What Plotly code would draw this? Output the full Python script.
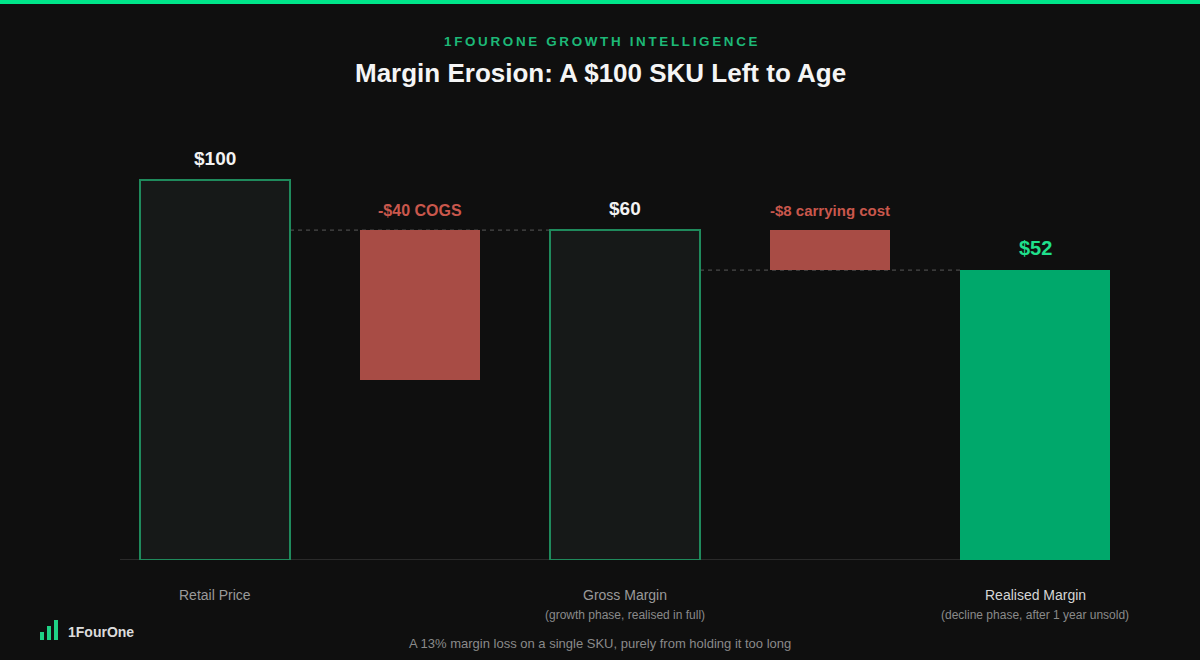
import plotly.graph_objects as go

# ---- data ----
steps = ["Retail Price", "COGS", "Gross Margin", "Carrying cost", "Realised Margin"]
amounts = [100, -40, 60, -8, 52]                       # dollar values shown
value_labels = ["$100", "-$40 COGS", "$60", "-$8 carrying cost", "$52"]
sub_labels = ["", "", "(growth phase, realised in full)", "", "(decline phase, after 1 year unsold)"]
axis_labels = ["Retail Price", "", "Gross Margin", "", "Realised Margin"]
# bar extents as drawn in the reference (display scale, retail = 100)
bar_top = [100, 86.8, 86.8, 86.8, 76.3]
bar_base = [0, 47.4, 0, 76.3, 0]
kinds = ["total", "loss", "total", "loss", "final"]

# ---- styles ----
BG = "#0f0f0f"
FONT = "Liberation Sans, Arial, sans-serif"
fill = {"total": "#161918", "loss": "#a84c45", "final": "#00a86b"}
edge = {"total": "#1f8a5c", "loss": "#a84c45", "final": "#00a86b"}
edge_w = {"total": 2, "loss": 0, "final": 0}
label_col = {"total": "#f2f2f2", "loss": "#c9574c", "final": "#1fe08c"}
label_sizes = [19, 16, 19, 15, 20]
widths = {"total": 0.7317, "loss": 0.5854, "final": 0.7317}

x = list(range(len(steps)))
heights = [t - b for t, b in zip(bar_top, bar_base)]

fig = go.Figure()
fig.add_trace(go.Bar(
    x=x, y=heights, base=bar_base,
    width=[widths[k] for k in kinds],
    marker=dict(color=[fill[k] for k in kinds],
                line=dict(color=[edge[k] for k in kinds], width=[edge_w[k] for k in kinds])),
    hoverinfo="skip", showlegend=False,
))

# dashed connectors: each subtotal level extended back to the previous total bar
shapes = []
subtotal_idx = [i for i, k in enumerate(kinds) if k != "loss"]
for a, b in zip(subtotal_idx[:-1], subtotal_idx[1:]):
    level = bar_top[b]
    shapes.append(dict(type="line", xref="x", yref="y", layer="below",
                       x0=x[a] + widths[kinds[a]] / 2, x1=x[b] - widths[kinds[b]] / 2,
                       y0=level, y1=level, line=dict(color="#4a4a4a", width=1.3, dash="4px,4px")))
# baseline
shapes.append(dict(type="line", xref="paper", yref="y", layer="below", x0=0, x1=0.9505,
                   y0=0, y1=0, line=dict(color="#2a2a2a", width=2)))
# top accent strip
shapes.append(dict(type="rect", xref="paper", yref="paper", x0=-0.2, x1=1.2,
                   y0=1.3238, y1=1.34, fillcolor="#00e68a", line=dict(width=0)))
# logo bars
for lx, top in [(40, 632), (47, 626), (54, 620)]:
    shapes.append(dict(type="rect", xref="paper", yref="paper",
                       x0=(lx - 120) / 1010, x1=(lx + 4 - 120) / 1010,
                       y0=(560 - 640) / 420, y1=(560 - top) / 420,
                       fillcolor="#1fd185", line=dict(width=0)))

ann = []
for i, k in enumerate(kinds):
    ann.append(dict(x=x[i], y=bar_top[i], xref="x", yref="y", text="<b>%s</b>" % value_labels[i],
                    showarrow=False, yanchor="middle", yshift=22 if k != "loss" else 20,
                    font=dict(family=FONT, size=label_sizes[i], color=label_col[k])))
    if axis_labels[i]:
        ann.append(dict(x=x[i], y=-0.0833, xref="x", yref="paper", text=axis_labels[i],
                        showarrow=False, yanchor="middle",
                        font=dict(family=FONT, size=14, color="#d6d6d6" if k == "final" else "#9a9a9a")))
    if sub_labels[i]:
        ann.append(dict(x=x[i], y=-0.131, xref="x", yref="paper", text=sub_labels[i],
                        showarrow=False, yanchor="middle",
                        font=dict(family=FONT, size=12, color="#8a8a8a")))

kicker = "\u2009".join("1FOURONE GROWTH INTELLIGENCE")
ann += [
    dict(x=(600 - 120) / 1010, y=(560 - 41.5) / 420, xref="paper", yref="paper", text="<b>%s</b>" % kicker,
         showarrow=False, yanchor="middle", font=dict(family=FONT, size=13.4, color="#1db877")),
    dict(x=(600 - 120) / 1010, y=(560 - 73) / 420, xref="paper", yref="paper",
         text="<b>Margin Erosion: A $100 SKU Left to Age</b>",
         showarrow=False, yanchor="middle", font=dict(family=FONT, size=26, color="#f5f5f5")),
    dict(x=(600 - 120) / 1010, y=(560 - 643) / 420, xref="paper", yref="paper",
         text="A 13% margin loss on a single SKU, purely from holding it too long",
         showarrow=False, yanchor="middle", font=dict(family=FONT, size=13, color="#8a8a8a")),
    dict(x=(66 - 120) / 1010, y=(560 - 632) / 420, xref="paper", yref="paper", text="<b>1FourOne</b>",
         showarrow=False, xanchor="left", yanchor="middle", font=dict(family=FONT, size=14, color="#dcdcdc")),
]

fig.update_layout(
    width=1200, height=660,
    margin=dict(l=120, r=70, t=140, b=100),
    paper_bgcolor=BG, plot_bgcolor=BG,
    xaxis=dict(range=[-0.46341, 4.46341], visible=False, fixedrange=True),
    yaxis=dict(range=[0, 110.53], visible=False, fixedrange=True),
    shapes=shapes, annotations=ann,
    bargap=0, font=dict(family=FONT),
)
fig.write_html(
    "out.html",
    config={"displayModeBar": False},
    post_script="document.body.style.margin='0';document.body.style.background='#0f0f0f';"
                "document.body.style.overflow='hidden';",
)
